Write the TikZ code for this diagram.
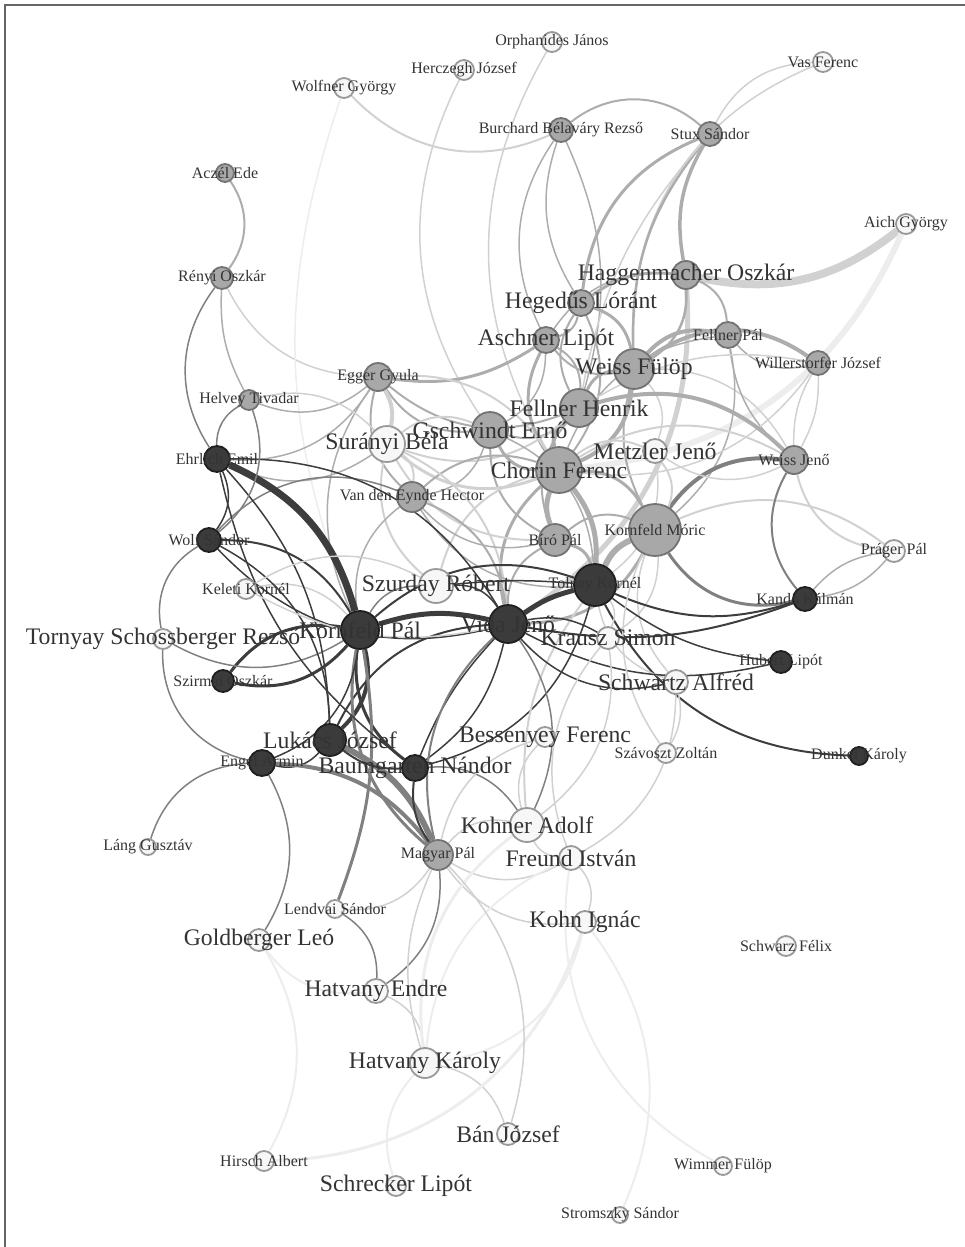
\documentclass[tikz,border=0pt]{standalone}
\usepackage{fontspec}
\setmainfont{Liberation Serif}
\usetikzlibrary{positioning}
\pgfdeclarelayer{bg}
\pgfsetlayers{bg,main}

% edge greys
\colorlet{dk}{black!76}
\colorlet{md}{black!50}
\colorlet{gr}{black!32}
\colorlet{lt}{black!18}
\colorlet{vl}{black!7}

\tikzset{
  person/.style={circle, inner sep=0pt, line width=1.8pt},
  wnode/.style={person, fill=black!3, draw=black!40},
  gnode/.style={person, fill=black!34, draw=black!55},
  dnode/.style={person, fill=black!77, draw=black!88},
  smalllbl/.style={font=\fontsize{16}{18}\selectfont, text=black!80, inner sep=0pt},
  biglbl/.style={font=\fontsize{23.7}{26}\selectfont, text=black!80, inner sep=0pt}
}

% name / style / x / y / size / label font / label
\newcommand\crowd{%
orph/wnode/552/42/20/smalllbl/Orphanides János,
herc/wnode/464/70/20/smalllbl/Herczegh József,
wolfner/wnode/344/88/20/smalllbl/Wolfner György,
vas/wnode/823/62/20/smalllbl/Vas Ferenc,
burch/gnode/561/130/24/smalllbl/Burchard Bélaváry Rezső,
stux/gnode/710/134/24/smalllbl/Stux Sándor,
aczel/gnode/225/173/18/smalllbl/Aczél Ede,
aich/wnode/906/224/20/smalllbl/Aich György,
renyi/gnode/222/278/22/smalllbl/Rényi Oszkár,
haggen/gnode/686/275/28/biglbl/Haggenmacher Oszkár,
heged/gnode/581/303/26/biglbl/Hegedűs Lóránt,
aschner/gnode/546/340/26/biglbl/Aschner Lipót,
fellnerP/gnode/728/335/26/smalllbl/Fellner Pál,
weissF/gnode/634/369/40/biglbl/Weiss Fülöp,
willer/gnode/818/363/24/smalllbl/Willerstorfer József,
egger/gnode/378/377/28/smalllbl/Egger Gyula,
helvey/gnode/249/400/20/smalllbl/Helvey Tivadar,
fellnerH/gnode/579/408/38/biglbl/Fellner Henrik,
gschw/gnode/490/430/36/biglbl/Gschwindt Ernő,
suranyi/wnode/387/444/36/biglbl/Surányi Béla,
metzler/wnode/655/451/24/biglbl/Metzler Jenő,
chorin/gnode/559/470/46/biglbl/Chorin Ferenc,
ehrlich/dnode/217/459/26/smalllbl/Ehrlich Emil,
weissJ/gnode/794/460/28/smalllbl/Weiss Jenő,
vde/gnode/412/497/30/smalllbl/Van den Eynde Hector,
wolf/dnode/209/540/24/smalllbl/Wolf Sándor,
biro/gnode/555/540/32/smalllbl/Bíró Pál,
kornfM/gnode/655/530/52/smalllbl/Kornfeld Móric,
prager/wnode/894/551/22/smalllbl/Práger Pál,
keleti/wnode/246/589/20/smalllbl/Keleti Kornél,
szurday/wnode/436/586/34/biglbl/Szurday Róbert,
tolnay/dnode/595/585/42/smalllbl/Tolnay Kornél,
kando/dnode/805/599/24/smalllbl/Kandó Kálmán,
tornyay/wnode/163/639/20/biglbl/Tornyay Schossberger Rezső,
kornfP/dnode/360/630/38/biglbl/Kornfeld Pál,
vida/dnode/508/624/38/biglbl/Vida Jenő,
krausz/wnode/608/638/22/biglbl/Krausz Simon,
hubert/dnode/781/662/22/smalllbl/Hubert Lipót,
szirmai/dnode/223/681/22/smalllbl/Szirmai Oszkár,
schwartz/wnode/676/682/24/biglbl/Schwartz Alfréd,
lukacs/dnode/330/740/32/biglbl/Lukács József,
bessen/wnode/545/737/20/biglbl/Bessenyey Ferenc,
szavoszt/wnode/666/753/20/smalllbl/Szávoszt Zoltán,
engel/dnode/262/763/26/smalllbl/Engel Armin,
baumg/dnode/415/768/26/biglbl/Baumgarten Nándor,
dunkel/dnode/859/756/18/smalllbl/Dunkel Károly,
kohner/wnode/527/825/34/biglbl/Kohner Adolf,
lang/wnode/148/847/16/smalllbl/Láng Gusztáv,
magyar/gnode/438/855/30/smalllbl/Magyar Pál,
freund/wnode/571/858/24/biglbl/Freund István,
lendvai/wnode/335/909/18/smalllbl/Lendvai Sándor,
kohn/wnode/585/922/22/biglbl/Kohn Ignác,
goldb/wnode/259/940/22/biglbl/Goldberger Leó,
schwarz/wnode/786/946/20/smalllbl/Schwarz Félix,
hatvE/wnode/376/991/24/biglbl/Hatvany Endre,
hatvK/wnode/425/1063/30/biglbl/Hatvany Károly,
ban/wnode/508/1134/22/biglbl/Bán József,
hirsch/wnode/264/1161/20/smalllbl/Hirsch Albert,
schreck/wnode/396/1186/20/biglbl/Schrecker Lipót,
wimmer/wnode/723/1166/18/smalllbl/Wimmer Fülöp,
stroms/wnode/620/1215/16/smalllbl/Stromszky Sándor}

% from / to / grey / width / bend
\newcommand\ties{%
aczel/renyi/gr/2/35,
renyi/ehrlich/md/1.5/-35,
renyi/egger/lt/1.5/-30,
renyi/helvey/gr/1.5/-15,
wolfner/burch/lt/2/-35,
wolfner/kornfP/vl/1.5/-20,
orph/chorin/lt/1.5/-30,
herc/gschw/lt/1.5/-30,
burch/stux/gr/2/40,
burch/aschner/gr/1.5/-30,
burch/heged/gr/1.5/-25,
burch/fellnerH/gr/1.5/20,
stux/vas/lt/1.5/30,
vas/weissF/lt/1.5/-35,
stux/haggen/gr/3.5/-20,
stux/heged/gr/3/-30,
stux/weissF/gr/2.5/-20,
stux/fellnerH/lt/1.5/-15,
haggen/aich/lt/8/-25,
aich/chorin/vl/6/30,
haggen/vida/lt/5/30,
haggen/heged/gr/3/-20,
haggen/weissF/gr/2.5/30,
haggen/fellnerP/gr/2/30,
haggen/aschner/gr/1.5/-30,
heged/aschner/gr/2/30,
heged/weissF/gr/3/30,
heged/fellnerH/gr/2/-30,
heged/chorin/gr/2/30,
egger/aschner/gr/3/-20,
aschner/weissF/gr/2/-30,
aschner/fellnerH/gr/2/30,
aschner/chorin/gr/3/-30,
aschner/gschw/gr/1.5/30,
weissF/fellnerP/gr/4/30,
weissF/willer/gr/4/35,
weissF/fellnerH/gr/3/-30,
weissF/chorin/gr/4/30,
weissF/metzler/lt/1.5/30,
weissF/kornfM/gr/2/-20,
weissF/weissJ/lt/1.5/30,
fellnerP/willer/gr/1.5/-30,
fellnerP/weissJ/gr/1.5/-20,
fellnerP/chorin/gr/1.5/-30,
fellnerP/kornfM/gr/1.5/30,
willer/weissJ/lt/1.5/15,
willer/weissJ/lt/1.5/-15,
willer/chorin/lt/1.5/30,
willer/fellnerH/lt/1.5/-20,
fellnerH/chorin/gr/4/-30,
fellnerH/gschw/gr/2/30,
fellnerH/egger/gr/2/30,
fellnerH/suranyi/lt/2/30,
fellnerH/biro/gr/2/-30,
fellnerH/weissJ/gr/4/30,
gschw/chorin/gr/3/-30,
gschw/egger/gr/2/30,
gschw/suranyi/lt/2/-30,
gschw/vde/gr/1.5/30,
gschw/biro/gr/2/-30,
gschw/tolnay/gr/1.5/30,
chorin/biro/gr/5/-20,
chorin/kornfM/gr/3/30,
chorin/tolnay/gr/5/20,
chorin/vida/gr/3/-30,
chorin/metzler/lt/2/30,
chorin/suranyi/lt/3/30,
chorin/vde/gr/2/-30,
chorin/egger/lt/2/-30,
chorin/weissJ/lt/2/30,
chorin/szurday/lt/2/-30,
egger/suranyi/lt/4/20,
egger/vde/gr/2/-30,
egger/helvey/gr/1.5/30,
egger/ehrlich/gr/1.5/30,
egger/kornfP/gr/1.5/-30,
suranyi/vde/lt/2/30,
suranyi/helvey/lt/1.5/-30,
suranyi/ehrlich/gr/1.5/30,
suranyi/szurday/lt/2/-30,
suranyi/vida/lt/2/30,
suranyi/biro/lt/2/-30,
vde/biro/gr/1.5/-30,
vde/vida/gr/2/30,
vde/kornfP/gr/1.5/-30,
vde/wolf/md/1.5/-35,
vde/tolnay/gr/1.5/-30,
biro/tolnay/gr/3/30,
biro/vida/gr/2/-30,
biro/kornfM/gr/2/30,
kornfM/tolnay/gr/6/-20,
kornfM/weissJ/md/4/30,
kornfM/kando/md/3/-35,
kornfM/prager/lt/2/30,
kornfM/metzler/lt/2/-30,
kornfM/vida/gr/3/30,
kornfM/schwartz/lt/1.5/-30,
kornfM/krausz/lt/1.5/30,
metzler/tolnay/lt/1.5/30,
metzler/weissJ/lt/1.5/-30,
kando/weissJ/md/2/35,
weissJ/prager/lt/2/-35,
kando/prager/gr/1.5/20,
kando/prager/gr/1.5/-20,
tolnay/kando/dk/2/-20,
tolnay/hubert/dk/1.5/-15,
tolnay/dunkel/dk/2/-30,
vida/tolnay/dk/5/10,
szurday/tolnay/dk/1.5/5,
tolnay/krausz/lt/1.5/30,
tolnay/schwartz/lt/1.5/-30,
tolnay/kornfP/dk/2/-30,
tolnay/baumg/dk/1.5/30,
tolnay/kohner/lt/2/-20,
vida/kando/dk/2/-15,
vida/hubert/dk/1.5/-20,
vida/schwartz/dk/1.5/-30,
vida/krausz/dk/1.5/20,
kornfP/vida/dk/5/15,
vida/lukacs/dk/2/-30,
vida/baumg/dk/1.5/20,
vida/baumg/dk/1.5/-10,
vida/kohner/md/1.5/30,
vida/wolf/dk/1.5/30,
vida/ehrlich/dk/1.5/-30,
vida/szurday/dk/1.5/-30,
vida/magyar/md/2/-30,
ehrlich/kornfP/dk/7/25,
kornfP/wolf/dk/2/-30,
kornfP/szirmai/dk/3/30,
kornfP/szirmai/dk/3/-30,
kornfP/lukacs/dk/4/30,
kornfP/baumg/dk/3/-30,
kornfP/magyar/md/3/-30,
kornfP/engel/dk/1.5/30,
kornfP/keleti/lt/1.5/-30,
kornfP/szurday/md/1.5/30,
lendvai/kornfP/md/3/-15,
kornfP/tornyay/md/1.5/30,
ehrlich/helvey/md/1.5/30,
ehrlich/wolf/dk/1.5/30,
ehrlich/lukacs/dk/1.5/20,
ehrlich/baumg/dk/1.5/-20,
helvey/wolf/md/1.5/35,
wolf/tornyay/md/1.5/-35,
wolf/lukacs/dk/1.5/30,
keleti/vida/lt/1.5/-20,
keleti/szurday/lt/1.5/30,
tornyay/engel/md/1.5/-40,
lukacs/engel/dk/1.5/30,
lukacs/magyar/md/6/20,
lukacs/baumg/dk/2/-20,
engel/magyar/md/4/25,
engel/lang/md/1.5/-35,
engel/goldb/md/1.5/30,
baumg/magyar/dk/2/-20,
baumg/kohner/md/1.5/30,
magyar/kohner/lt/1.5/30,
magyar/freund/lt/1.5/-30,
magyar/kohn/lt/1.5/-30,
magyar/hatvE/md/1.5/30,
magyar/hatvK/lt/1.5/-20,
magyar/lendvai/lt/1.5/30,
magyar/bessen/lt/1.5/30,
kohner/freund/lt/1.5/-30,
kohner/bessen/lt/1.5/30,
kohner/krausz/lt/1.5/-30,
freund/kohn/lt/1.5/30,
freund/schwartz/lt/1.5/-30,
freund/krausz/lt/1.5/30,
szavoszt/schwartz/lt/1.5/-20,
szavoszt/kornfM/lt/1.5/30,
hatvE/lendvai/md/1.5/-30,
hatvE/hatvK/lt/1.5/30,
hatvE/goldb/vl/2/30,
hatvK/ban/lt/1.5/30,
hatvK/schreck/vl/2/-30,
hatvK/kohn/vl/2/-35,
hatvK/freund/vl/2/30,
hatvK/kohner/vl/3/30,
hirsch/goldb/vl/2/-30,
hirsch/kohn/vl/3/-35,
wimmer/freund/vl/2/35,
stroms/kohn/vl/2/-30,
ban/magyar/lt/1.5/-30}

\begin{document}
\begin{tikzpicture}[x=1pt, y=-1pt]
    \useasboundingbox (0,0) rectangle (965,1247);
    % Frame
    \draw[black!60, line width=2pt] (5,1247) -- (5,5) -- (965,5);

    % People
    \foreach \n/\s/\x/\y/\d/\f/\t in \crowd
        \node[\s, minimum size=\d pt] (\n) at (\x,\y) {};

    % Ties
    \begin{pgfonlayer}{bg}
    \foreach \a/\b/\c/\w/\k in \ties
        \draw[draw=\c, line width=\w pt] (\a) to[bend left=\k] (\b);
    \end{pgfonlayer}

    % Names
    \foreach \n/\s/\x/\y/\d/\f/\t in \crowd
        \node[\f] (\n-t) at (\n) {\t};
\end{tikzpicture}
\end{document}
